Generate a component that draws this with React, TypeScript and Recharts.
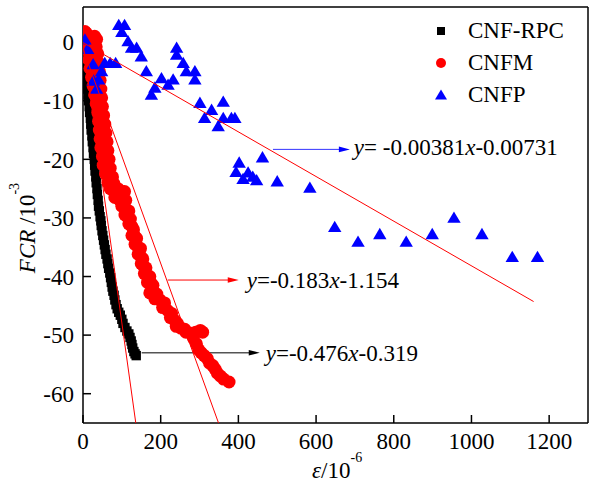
import React from 'react';
import { ScatterChart, Scatter, XAxis, YAxis, ReferenceLine, Legend } from 'recharts';

const FONT = '"Liberation Serif", "Times New Roman", serif';

// axes
const xTicks = [0, 200, 400, 600, 800, 1000, 1200];
const yTicks = [-60, -50, -40, -30, -20, -10, 0];
const xDomain: [number, number] = [0, 1300];
const yDomain: [number, number] = [-65, 6];

const seriesNames = ['CNF-RPC', 'CNFM', 'CNFP'];

// CNF-RPC (black squares)
const cnfRpc: [number, number][] = [
  [0, 0], [1, -1], [3, -2], [4, -3], [6, -4], [7, -5], [9, -6], [10, -7], [11, -8], [13, -9],
  [14, -10], [16, -11], [17, -12], [19, -13], [20, -14], [21, -15], [23, -16], [24, -17], [26, -18],
  [27, -19], [29, -20], [30, -21], [31, -22], [33, -23], [34, -24], [36, -25], [37, -26], [39, -27],
  [40, -28], [42, -28.8], [44, -29.8], [46, -30.5], [47, -31.3], [49, -32.2], [51, -33], [53, -33.8],
  [55, -34.6], [57, -35.4], [59, -36.2], [62, -37], [64, -37.8], [66, -38.6], [69, -39.4], [71, -40.2],
  [73, -41], [75, -41.8], [77, -42.5], [80, -43.2], [82, -44], [85, -44.8], [88, -45.5], [92, -46.1],
  [96, -46.6], [100, -47.3], [103, -48], [108, -48.7], [113, -49.3], [118, -49.8], [121, -50.4],
  [124, -51], [126, -51.6], [128, -52.2], [131, -52.8], [134, -53.2], [137, -53.5],
];

// CNFM (red circles)
const cnfm: [number, number][] = [
  [1, 1.5], [5, 1.8], [9, 1.5], [14, 1.0], [22, 0.6], [30, 1.0], [35, 0.5],
  [8, 0.2], [16, -0.3], [26, -0.5], [34, -0.8],
  [12, -1.5], [20, -1.5], [30, -1.8], [38, -2],
  [15, -3], [24, -3], [33, -3.2], [40, -3.5],
  [18, -4.5], [27, -4.5], [36, -5], [42, -5],
  [22, -6], [30, -6], [38, -6.5], [44, -6.5],
  [26, -7.5], [34, -7.5], [40, -8], [46, -8],
  [30, -9], [38, -9], [43, -9.5], [48, -9.5],
  [34, -10.5], [42, -10.5], [46, -11], [50, -11],
  [38, -12], [45, -12], [48, -12.5], [53, -12.5],
  [40, -13.5], [48, -13.5], [52, -14], [56, -14],
  [42, -15], [50, -15], [55, -15.5], [59, -15.5],
  [44, -16.5], [52, -16.5], [58, -17], [62, -17],
  [46, -18], [54, -18], [60, -18.5], [64, -18.5],
  [50, -19.5], [58, -19.5], [63, -20], [67, -20],
  [52, -21], [60, -21], [67, -21.5], [70, -21.5],
  [58, -22.5], [66, -22.5], [72, -23], [76, -23],
  [64, -24], [72, -24], [80, -24.2],
  [70, -25], [78, -25.3], [90, -25], [100, -25.5], [107, -25.5],
  [82, -26.5], [95, -27], [110, -27],
  [100, -28], [110, -28.5], [118, -28.8],
  [108, -29.5], [116, -30], [122, -30.2],
  [118, -31], [126, -31.5], [130, -32],
  [126, -33], [134, -33.2], [138, -33.5],
  [134, -34.5], [142, -35], [148, -35.2],
  [142, -36.2], [148, -36.5], [154, -37],
  [150, -37.8], [156, -38.2], [162, -38.5],
  [158, -39.5], [165, -39.8], [172, -40],
  [166, -41], [174, -41], [180, -41.5],
  [172, -42.8], [180, -42.8], [190, -43],
  [185, -43.8], [198, -44], [210, -44.5],
  [205, -45.3], [218, -45.8], [228, -46.3],
  [225, -47], [236, -47.5], [243, -48],
  [240, -48.5], [252, -48.8], [262, -49],
  [265, -49.5], [278, -49.7], [290, -49.5], [302, -49.2], [308, -49.5],
  [284, -50.5], [292, -51.5], [298, -52.5],
  [304, -53], [312, -53.5], [320, -54],
  [326, -54.8], [334, -55.2], [340, -55.8],
  [346, -56.5], [354, -57], [362, -57.5], [376, -58],
];

// CNFP (blue triangles)
const cnfp: [number, number][] = [
  [5, 0.4], [12, -1.2], [26, -3.8], [27, -6.6], [35, -8.0], [40, -6.4], [48, -5.0], [56, -3.6],
  [70, -3.6], [84, -3.6],
  [92, 2.9], [107, 2.9], [100, 1.7], [116, 0.1], [125, -1.0], [138, -1.0], [150, -2.5], [163, -5.0],
  [176, -9.0], [185, -7.8], [202, -6.2], [219, -7.3], [232, -6.4], [241, -1.0], [241, -2.2],
  [258, -3.6], [266, -5.0], [288, -5.0], [288, -6.4], [301, -10.4], [313, -13.0], [331, -11.6],
  [348, -14.4], [361, -10.2], [361, -13.0], [382, -13.0], [391, -13.0],
  [402, -20.6], [462, -19.7], [394, -22.2], [425, -22.3], [412, -23.4], [437, -23.0], [447, -23.6],
  [500, -23.8],
  [584, -24.9], [648, -31.6], [708, -34.1], [764, -32.8], [832, -34.1], [899, -32.8], [955, -30.0],
  [1027, -32.8], [1105, -36.7], [1170, -36.7],
];

// linear fits (end points)
const fitRpc: [number, number][] = [[0, -0.319], [135.9, -65]];
const fitM: [number, number][] = [[0, -1.154], [348.9, -65]];
const fitP: [number, number][] = [[0, -0.073], [1160, -44.27]];

// equations: [after "y", after "x"]
const eqP = ['= -0.00381', '-0.00731'];
const eqM = ['=-0.183', '-1.154'];
const eqRpc = ['=-0.476', '-0.319'];

// arrow annotations (data coordinates)
const arrowP = { y: -18.3, x1: 489, x2: 687 };
const arrowM = { y: -40.6, x1: 218, x2: 401 };
const arrowRpc = { y: -53.0, x1: 151, x2: 455 };

const toPts = (arr: [number, number][]) => arr.map(([x, y]) => ({ x, y }));

const Square = (p: any) =>
  p.cx == null ? <g /> : <rect x={p.cx - 4.7} y={p.cy - 4.7} width={9.4} height={9.4} fill="#000" />;
const Dot = (p: any) => (p.cx == null ? <g /> : <circle cx={p.cx} cy={p.cy} r={6.5} fill="#ff0000" />);
const Tri = (p: any) =>
  p.cx == null ? (
    <g />
  ) : (
    <polygon
      points={`${p.cx},${p.cy - 6.5} ${p.cx + 6.7},${p.cy + 4.8} ${p.cx - 6.7},${p.cy + 4.8}`}
      fill="#0000ff"
    />
  );
const NoShape = () => <g />;

function makeArrow(headColor: string, lineColor: string, lineWidth: number, parts: string[], dx: number, dy: number) {
  return (p: any) => {
    const { x1, y1, x2, y2 } = p;
    if (x1 == null || x2 == null) return <g />;
    const L = 11;
    const H = 2.8;
    return (
      <g>
        <line x1={x1} y1={y1} x2={x2 - L + 1} y2={y2} stroke={lineColor} strokeWidth={lineWidth} />
        <polygon points={`${x2},${y2} ${x2 - L},${y2 - H} ${x2 - L},${y2 + H}`} fill={headColor} />
        <text x={x2 + dx} y={y2 + dy} fontFamily={FONT} fontSize={23} fill="#000">
          <tspan fontStyle="italic">y</tspan>
          <tspan>{parts[0]}</tspan>
          <tspan fontStyle="italic">x</tspan>
          <tspan>{parts[1]}</tspan>
        </text>
      </g>
    );
  };
}

const YTitle = () => (
  <text transform="translate(35,228) rotate(-90)" textAnchor="middle" fontFamily={FONT} fontSize={23} fill="#000">
    <tspan fontStyle="italic">FCR</tspan>
    <tspan> /10</tspan>
    <tspan fontSize={14} dy={-16}>-3</tspan>
  </text>
);

const XTitle = () => (
  <text x={312} y={478} fontFamily={FONT} fontSize={23} fill="#000">
    <tspan fontStyle="italic">ε</tspan>
    <tspan>/10</tspan>
    <tspan fontSize={14} dy={-16}>-6</tspan>
  </text>
);

const LegendContent = () => (
  <svg width={155} height={100} style={{ display: 'block' }}>
    <rect x={11 - 4} y={21 - 4} width={8} height={8} fill="#000" />
    <text x={38} y={28} fontFamily={FONT} fontSize={23} fill="#000">{seriesNames[0]}</text>
    <circle cx={11} cy={53} r={5} fill="#ff0000" />
    <text x={38} y={60} fontFamily={FONT} fontSize={23} fill="#000">{seriesNames[1]}</text>
    <polygon points={`11,79.5 17,89.5 5,89.5`} fill="#0000ff" />
    <text x={38} y={92} fontFamily={FONT} fontSize={23} fill="#000">{seriesNames[2]}</text>
  </svg>
);

const tickStyle = { fill: '#000', fontSize: 23, fontFamily: FONT };
const axisLineStyle = { stroke: '#000', strokeWidth: 1.5 };
const tickLineStyle = { stroke: '#000', strokeWidth: 1.5 };

export default function App() {
  return (
    <div style={{ position: 'absolute', left: 0, top: 0, width: 589, height: 485, background: '#fff' }}>
      <ScatterChart width={589} height={485} margin={{ top: 6, right: 0, bottom: 22, left: 23 }}>
        <XAxis
          type="number"
          dataKey="x"
          domain={xDomain}
          ticks={xTicks}
          allowDataOverflow
          height={40}
          tick={tickStyle}
          tickSize={-8}
          tickMargin={18}
          axisLine={axisLineStyle}
          tickLine={tickLineStyle}
          label={<XTitle />}
        />
        <XAxis
          xAxisId="top"
          orientation="top"
          type="number"
          dataKey="x"
          domain={xDomain}
          ticks={xTicks}
          allowDataOverflow
          height={1}
          tick={false}
          tickSize={-8}
          axisLine={axisLineStyle}
          tickLine={tickLineStyle}
        />
        <YAxis
          type="number"
          dataKey="y"
          domain={yDomain}
          ticks={yTicks}
          allowDataOverflow
          width={60}
          tick={tickStyle}
          tickSize={-8}
          tickMargin={17}
          axisLine={axisLineStyle}
          tickLine={tickLineStyle}
          label={<YTitle />}
        />
        <YAxis
          yAxisId="right"
          orientation="right"
          type="number"
          dataKey="y"
          domain={yDomain}
          ticks={yTicks}
          allowDataOverflow
          width={1}
          tick={false}
          tickSize={-8}
          axisLine={axisLineStyle}
          tickLine={tickLineStyle}
        />
        <Legend
          layout="vertical"
          align="center"
          verticalAlign="middle"
          content={<LegendContent />}
          wrapperStyle={{ left: 430, top: 10, width: 155, height: 100 }}
        />
        <Scatter name={seriesNames[0]} data={toPts(cnfRpc)} shape={Square} isAnimationActive={false} />
        <Scatter name={seriesNames[1]} data={toPts(cnfm)} shape={Dot} isAnimationActive={false} />
        <Scatter name={seriesNames[2]} data={toPts(cnfp)} shape={Tri} isAnimationActive={false} />
        <Scatter data={toPts(fitRpc)} shape={NoShape} line={{ stroke: '#ff0000', strokeWidth: 1 }} isAnimationActive={false} legendType="none" />
        <Scatter data={toPts(fitM)} shape={NoShape} line={{ stroke: '#ff0000', strokeWidth: 1 }} isAnimationActive={false} legendType="none" />
        <Scatter data={toPts(fitP)} shape={NoShape} line={{ stroke: '#ff0000', strokeWidth: 1 }} isAnimationActive={false} legendType="none" />
        <ReferenceLine
          segment={[{ x: arrowP.x1, y: arrowP.y }, { x: arrowP.x2, y: arrowP.y }]}
          shape={makeArrow('#0000ff', '#3333ff', 1, eqP, 4, 6)}
        />
        <ReferenceLine
          segment={[{ x: arrowM.x1, y: arrowM.y }, { x: arrowM.x2, y: arrowM.y }]}
          shape={makeArrow('#ff0000', '#ff0000', 1, eqM, 8, 8)}
        />
        <ReferenceLine
          segment={[{ x: arrowRpc.x1, y: arrowRpc.y }, { x: arrowRpc.x2, y: arrowRpc.y }]}
          shape={makeArrow('#000', '#555', 1.5, eqRpc, 6, 8.4)}
        />
      </ScatterChart>
    </div>
  );
}
